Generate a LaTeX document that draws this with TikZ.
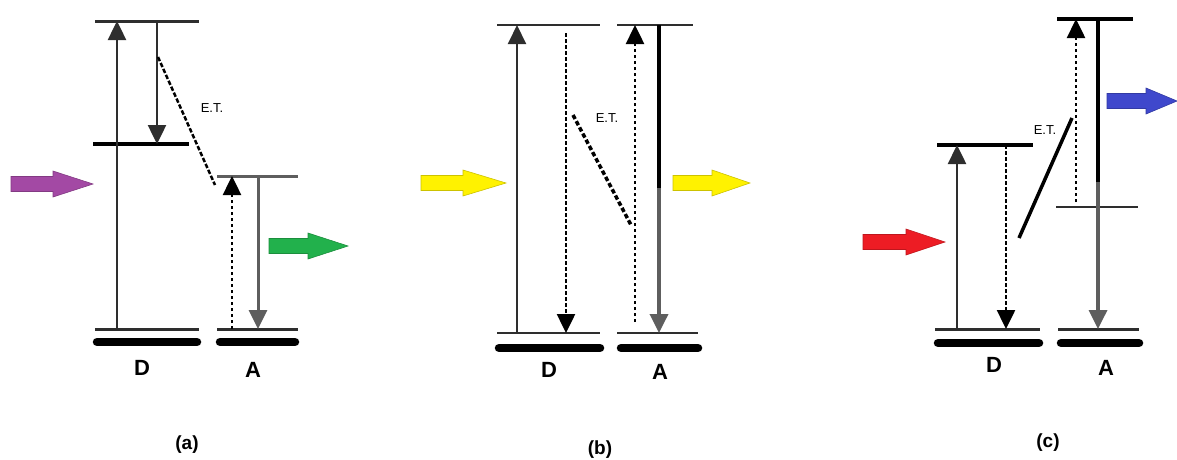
\documentclass[tikz,border=0pt]{standalone}
\usepackage{fontspec}
\setmainfont{Liberation Sans}
\usetikzlibrary{arrows.meta}
\definecolor{cpurple}{HTML}{A349A4}
\definecolor{cgreen}{HTML}{22B14C}
\definecolor{cyellow}{HTML}{FFF200}
\definecolor{cred}{HTML}{ED1C24}
\definecolor{cblue}{HTML}{3F48CC}
\definecolor{dk}{HTML}{2E2E2E}
\definecolor{gr}{HTML}{5E5E5E}
\newcommand\blockarrow[6]{% name x1 xh x2 y color
  \filldraw[fill=#6, draw=#6!80!black, line width=0.6pt]
    (#2,#5-7.5) -- (#3,#5-7.5) -- (#3,#5-13) -- (#4,#5) coordinate (#1)
    -- (#3,#5+13) -- (#3,#5+7.5) -- (#2,#5+7.5) -- cycle;}
\tikzset{
  level/.style={line width=3pt, draw=dk},
  blevel/.style={line width=3.5pt, draw=black},
  bar/.style={line width=8.5pt, line cap=round, draw=black},
  trans/.style={line width=2.5pt, draw=dk, -{Triangle[length=19pt,width=18pt]}},
  dotted trans/.style={trans, draw=black, dash pattern=on 3.5pt off 2.5pt},
  etdash/.style={line width=2.5pt, draw=black, dash pattern=on 4.5pt off 2pt},
  lab/.style={font=\fontsize{22}{24}\selectfont\bfseries, inner sep=0pt},
  etlab/.style={font=\fontsize{13}{15}\selectfont, inner sep=0pt},
  plab/.style={font=\fontsize{19}{22}\selectfont\bfseries, inner sep=0pt},
}
\begin{document}
\begin{tikzpicture}[x=1pt,y=-1pt]
\useasboundingbox (0,0) rectangle (1177,459);
% ================= (a) =================
\coordinate (aDt1) at (95,21);  \coordinate (aDt2) at (199,21);
\coordinate (aDm1) at (93,144); \coordinate (aDm2) at (189,144);
\coordinate (aDg1) at (95,329); \coordinate (aDg2) at (199,329);
\coordinate (aAt1) at (217,176); \coordinate (aAt2) at (298,176);
\coordinate (aAg1) at (217,329); \coordinate (aAg2) at (298,329);
\draw[level] (aDt1) -- (aDt2);
\draw[blevel] (aDm1) -- (aDm2);
\draw[level] (aDg1) -- (aDg2);
\draw[level, draw=gr] (aAt1) -- (aAt2);
\draw[level] (aAg1) -- (aAg2);
\draw[bar] (97,342) coordinate (aDb1) -- (197,342) coordinate (aDb2);
\draw[bar] (220,342) coordinate (aAb1) -- (295,342) coordinate (aAb2);
\coordinate (aU0) at (117,329); \coordinate (aU1) at (117,21);
\draw[trans] (aU0) -- (aU1);
\coordinate (aR0) at (157,21); \coordinate (aR1) at (157,144);
\draw[trans] (aR0) -- (aR1);
\coordinate (aE0) at (158,57); \coordinate (aE1) at (215,185);
\draw[etdash] (aE0) -- (aE1);
\node[etlab] (aET) at (212,108) {E.T.};
\coordinate (aAu0) at (232,329); \coordinate (aAu1) at (232,176);
\draw[dotted trans] (aAu0) -- (aAu1);
\coordinate (aAd0) at (258,176); \coordinate (aAd1) at (258,329);
\draw[trans, draw=gr, line width=3pt] (aAd0) -- (aAd1);
\blockarrow{aIn}{11}{53}{93}{184}{cpurple}
\blockarrow{aOut}{269}{308}{348}{246}{cgreen}
\node[lab] (aD) at (142,368) {D};
\node[lab] (aA) at (253,370) {A};
\node[plab] (pa) at (187,445) {(a)};
% ================= (b) =================
\coordinate (bDt1) at (497,25);  \coordinate (bDt2) at (600,25);
\coordinate (bAt1) at (617,25);  \coordinate (bAt2) at (693,25);
\coordinate (bDg1) at (497,333); \coordinate (bDg2) at (600,333);
\coordinate (bAg1) at (617,333); \coordinate (bAg2) at (698,333);
\draw[level, line width=2.5pt] (bDt1) -- (bDt2);
\draw[level, line width=2.5pt] (bAt1) -- (bAt2);
\draw[level, line width=2.5pt] (bDg1) -- (bDg2);
\draw[level, line width=2.5pt] (bAg1) -- (bAg2);
\draw[bar] (499,348) coordinate (bDb1) -- (600,348) coordinate (bDb2);
\draw[bar] (621,348) coordinate (bAb1) -- (698,348) coordinate (bAb2);
\coordinate (bU0) at (517,333); \coordinate (bU1) at (517,25);
\draw[trans, line width=2pt] (bU0) -- (bU1);
\coordinate (bR0) at (566,33); \coordinate (bR1) at (566,333);
\draw[dotted trans] (bR0) -- (bR1);
\coordinate (bE0) at (573,115); \coordinate (bE1) at (631,225);
\draw[etdash, line width=3.5pt, dash pattern=on 4.5pt off 2.5pt] (bE0) -- (bE1);
\node[etlab] (bET) at (607,118) {E.T.};
\coordinate (bAu0) at (635,322); \coordinate (bAu1) at (635,25);
\draw[dotted trans] (bAu0) -- (bAu1);
\coordinate (bAd0) at (659,25); \coordinate (bAm) at (659,188); \coordinate (bAd1) at (659,333);
\draw[line width=4pt, draw=black] (bAd0) -- (bAm);
\draw[trans, line width=3.5pt, draw=gr] (bAm) -- (bAd1);
\blockarrow{bIn}{421}{463}{506}{183}{cyellow}
\blockarrow{bOut}{673}{712}{750}{183}{cyellow}
\node[lab] (bD) at (549,370) {D};
\node[lab] (bA) at (660,372) {A};
\node[plab] (pb) at (600,450) {(b)};
% ================= (c) =================
\coordinate (cAt1) at (1057,19);  \coordinate (cAt2) at (1133,19);
\coordinate (cDt1) at (937,145);  \coordinate (cDt2) at (1033,145);
\coordinate (cAm1) at (1056,207); \coordinate (cAm2) at (1138,207);
\coordinate (cDg1) at (935,329);  \coordinate (cDg2) at (1040,329);
\coordinate (cAg1) at (1058,329); \coordinate (cAg2) at (1139,329);
\draw[blevel] (cAt1) -- (cAt2);
\draw[blevel] (cDt1) -- (cDt2);
\draw[level, line width=2.5pt] (cAm1) -- (cAm2);
\draw[level] (cDg1) -- (cDg2);
\draw[level] (cAg1) -- (cAg2);
\draw[bar] (938,343) coordinate (cDb1) -- (1039,343) coordinate (cDb2);
\draw[bar] (1061,343) coordinate (cAb1) -- (1139,343) coordinate (cAb2);
\coordinate (cU0) at (957,329); \coordinate (cU1) at (957,145);
\draw[trans] (cU0) -- (cU1);
\coordinate (cR0) at (1006,145); \coordinate (cR1) at (1006,329);
\draw[dotted trans] (cR0) -- (cR1);
\coordinate (cE0) at (1019,238); \coordinate (cE1) at (1072,118);
\draw[line width=3.5pt, draw=black] (cE0) -- (cE1);
\node[etlab] (cET) at (1045,130) {E.T.};
\coordinate (cAu0) at (1076,202); \coordinate (cAu1) at (1076,19);
\draw[dotted trans] (cAu0) -- (cAu1);
\coordinate (cAd0) at (1098,19); \coordinate (cAm) at (1098,182); \coordinate (cAd1) at (1098,329);
\draw[line width=4pt, draw=black] (cAd0) -- (cAm);
\draw[trans, line width=3.5pt, draw=gr] (cAm) -- (cAd1);
\blockarrow{cIn}{863}{906}{945}{242}{cred}
\blockarrow{cOut}{1107}{1146}{1177}{101}{cblue}
\node[lab] (cD) at (994,365) {D};
\node[lab] (cA) at (1106,368) {A};
\node[plab] (pc) at (1048,443) {(c)};
\end{tikzpicture}
\end{document}
